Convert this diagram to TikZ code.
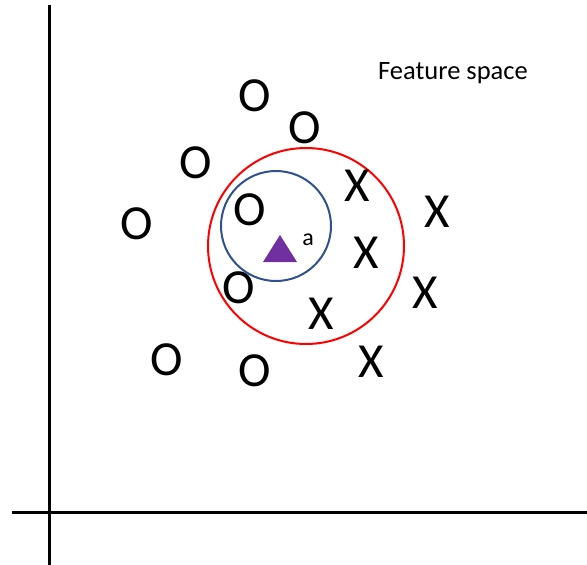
\documentclass[tikz,border=0pt]{standalone}
\usepackage{fontspec}
\setmainfont{Carlito}
\begin{document}
\begin{tikzpicture}[x=1pt,y=-1pt,
  axis/.style={line width=3pt,black},
  omark/.style={font=\fontsize{49}{49}\selectfont,inner sep=0pt},
  xmark/.style={font=\fontsize{49}{49}\selectfont,inner sep=0pt},
  caption/.style={font=\fontsize{26.5}{26.5}\selectfont,inner sep=0pt},
  ring/.style={line width=2pt}]
\useasboundingbox (0,0) rectangle (587,565);
% axes
\coordinate (ytop) at (49,5);
\coordinate (ybot) at (49,565);
\coordinate (xl) at (12,512);
\coordinate (xr) at (587,512);
\draw[axis] (ytop) -- (ybot);
\draw[axis] (xl) -- (xr);
% neighbourhoods
\draw[ring,red] (306,246) circle (98);
\draw[ring,color={rgb,255:red,47;green,82;blue,143}] (276,226) circle (55);
% query point
\fill[color={rgb,255:red,112;green,48;blue,160}] (263,262) -- (297,262) -- (280,235) -- cycle;
\node[font=\fontsize{24}{24}\selectfont,inner sep=0pt] (a) at (308,240) {a};
% class O
\node[omark] (o1) at (255,96) {O};
\node[omark] (o2) at (305,128) {O};
\node[omark] (o3) at (196,163) {O};
\node[omark] (o4) at (137,224) {O};
\node[omark] (o5) at (250,210) {O};
\node[omark] (o6) at (239,288) {O};
\node[omark] (o7) at (167,360) {O};
\node[omark] (o8) at (255,371) {O};
% class X
\node[xmark] (x1) at (357,186) {X};
\node[xmark] (x2) at (437,212) {X};
\node[xmark] (x3) at (366,253) {X};
\node[xmark] (x4) at (425,293) {X};
\node[xmark] (x5) at (321,314) {X};
\node[xmark] (x6) at (371,362) {X};
\node[caption] (title) at (453,73) {Feature space};
\end{tikzpicture}
\end{document}
